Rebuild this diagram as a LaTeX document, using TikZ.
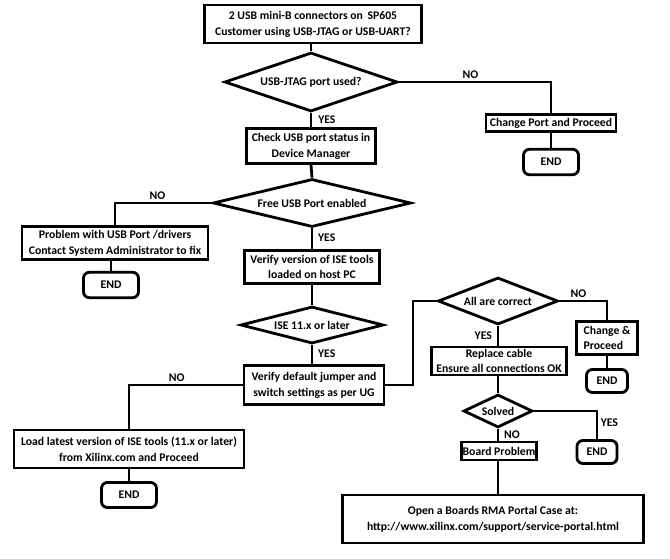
\documentclass[tikz,border=0pt]{standalone}
\usepackage{fontspec}
\setmainfont{Carlito}
\usetikzlibrary{shapes.geometric}

\begin{document}
\begin{tikzpicture}[x=0.03cm, y=-0.03cm,
  every node/.style={font=\bfseries\fontsize{10}{13.5}\selectfont},
  box/.style={draw, line width=2.4pt, fill=white, align=center, inner sep=1pt},
  decision/.style={draw, diamond, line width=2.4pt, fill=white, align=center, inner sep=0pt},
  stop/.style={draw, line width=2.4pt, rounded corners=5pt, fill=white, minimum width=1.65cm, minimum height=0.76cm},
  link/.style={line width=2.4pt},
  lbl/.style={inner sep=2pt}
]
  \useasboundingbox (0,0) rectangle (670,559);

  % main column
  \node[box, minimum width=6.51cm, minimum height=1.14cm] (start) at (313,24) {2 USB mini-B connectors on\, SP605\\Customer using USB-JTAG or USB-UART?};
  \node[decision, shape aspect=2.93, minimum width=5.19cm, minimum height=1.77cm] (jtag) at (311,82) {USB-JTAG port used?};
  \node[box, minimum width=3.87cm, minimum height=1.05cm] (check) at (311,146) {Check USB port status in\\Device Manager};
  \node[decision, shape aspect=4.1, minimum width=5.94cm, minimum height=1.44cm] (free) at (312,203) {Free USB Port enabled};
  \node[box, minimum width=4.05cm, minimum height=0.99cm] (version) at (312,267) {Verify version of ISE tools\\loaded on host PC};
  \node[decision, shape aspect=3.9, minimum width=4.29cm, minimum height=1.11cm] (ise) at (312,325) {ISE 11.x or later};
  \node[box, minimum width=4.2cm, minimum height=1.17cm] (jumper) at (314,385) {Verify default jumper and\\switch settings as per UG};

  % side branches
  \node[box, minimum width=3.9cm, minimum height=0.51cm] (chport) at (551,123) {Change Port and Proceed};
  \node[stop] (endA) at (551,162) {END};
  \node[box, minimum width=5.58cm, minimum height=0.99cm] (usbfix) at (115,243) {Problem with USB Port /drivers\\Contact System Administrator to fix};
  \node[stop] (endB) at (111,285) {END};
  \node[box, minimum width=6.9cm, minimum height=1.14cm] (load) at (129,449) {Load latest version of ISE tools (11.x or later)\\from Xilinx.com and Proceed};
  \node[stop, minimum height=0.75cm] (endC) at (129,495) {END};

  % right column
  \node[decision, shape aspect=2.55, minimum width=3.6cm, minimum height=1.41cm] (correct) at (498,301) {All are correct};
  \node[box, align=left, minimum width=1.83cm, minimum height=0.99cm] (change) at (607,338) {Change \&\\Proceed};
  \node[stop, minimum width=1.23cm, minimum height=0.69cm] (endD) at (607,381) {END};
  \node[box, minimum width=4.05cm, minimum height=0.84cm] (cable) at (499,361) {Replace cable\\Ensure all connections OK};
  \node[decision, shape aspect=2.1, minimum width=2.07cm, minimum height=0.99cm] (solved) at (498,411) {Solved};
  \node[stop, minimum width=1.2cm, minimum height=0.69cm] (endE) at (597,452) {END};
  \node[box, minimum width=2.25cm, minimum height=0.54cm] (board) at (499,451) {Board Problem};
  \node[box, minimum width=9.03cm, minimum height=1.44cm] (rma) at (493,519) {Open a Boards RMA Portal Case at:\\http://www.xilinx.com/support/service-portal.html};
  \coordinate (bend) at (413,385);

  \draw[link] (start.south -| jtag.north) -- (jtag.north);
  \draw[link] (jtag.south) -- node[lbl, right, xshift=3pt] {YES} (check.north);
  \draw[link] (jtag.east) -| node[lbl, above, pos=0.235] {NO} (chport.north);
  \draw[link] (chport.south) -- (endA.north);
  \draw[link] (check.south) -- (free.north);
  \draw[link] (free.west) -| node[lbl, above, pos=0.28] {NO} (usbfix.north);
  \draw[link] (usbfix.south -| endB.north) -- (endB.north);
  \draw[link] (free.south) -- node[lbl, right, pos=0.45, xshift=2pt] {YES} (version.north);
  \draw[link] (version.south) -- (ise.north);
  \draw[link] (ise.south) -- node[lbl, right, pos=0.45, xshift=2pt] {YES} (jumper.north -| ise.south);
  \draw[link] (jumper.west) -| node[lbl, above, pos=0.29] {NO} (load.north);
  \draw[link] (load.south) -- (endC.north);
  \draw[link] (jumper.east) -- (bend) |- (correct.west);
  \draw[link] (correct.east) -| node[lbl, above, pos=0.2] {NO} (change.north);
  \draw[link] (change.south) -- (endD.north);
  \draw[link] (correct.south) -- node[lbl, left, xshift=-2pt] {YES} (cable.north -| correct.south);
  \draw[link] (cable.south -| solved.north) -- (solved.north);
  \draw[link] (solved.east) -| node[lbl, right, pos=0.71] {YES} (endE.north);
  \draw[link] (solved.south) -- node[lbl, right, xshift=2pt] {NO} (board.north -| solved.south);
  \draw[link] (board.south -| solved.south) -- (rma.north -| solved.south);
\end{tikzpicture}
\end{document}
